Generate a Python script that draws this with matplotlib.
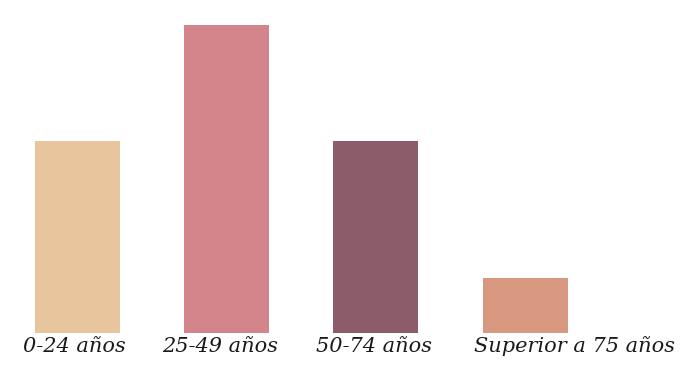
import matplotlib
matplotlib.use('Agg')
import matplotlib.pyplot as plt
from matplotlib.transforms import ScaledTranslation

#----------- data -----------
categories = ["0-24 años", "25-49 años", "50-74 años", "Superior a 75 años"]
values = [10., 16., 10., 2.85]
colors = ["#E8C59C", "#D4858C", "#8D5C6B", "#D8987F"]

fig = plt.figure(figsize=(6.84, 3.82), dpi=100)
ax = fig.add_axes([0., 49./382, 1., 333./382])

pos = list(range(len(categories)))
ax.bar(pos, values, width=0.57, color=colors)

ax.set_xlim(-0.519, 4.065)
ax.set_ylim(0, 17.3)
ax.set_xticks(pos)
ax.set_xticklabels(categories, fontsize=15, family="DejaVu Serif",
                   style="italic", color="#1a1a1a")
ax.tick_params(axis='x', length=0, pad=3)

# the labels are not quite centred under the bars in the original
shifts = [-0.03, -0.07, -0.02, 0.49]
for lab, dx in zip(ax.get_xticklabels(), shifts):
	lab.set_transform(lab.get_transform() + ScaledTranslation(dx, 0, fig.dpi_scale_trans))
	lab.set_va('baseline')
	lab.set_transform(lab.get_transform() + ScaledTranslation(0, -0.15, fig.dpi_scale_trans))

ax.set_yticks([])
for s in ax.spines.values():
	s.set_visible(False)

fig.savefig("out.png", dpi=100)
